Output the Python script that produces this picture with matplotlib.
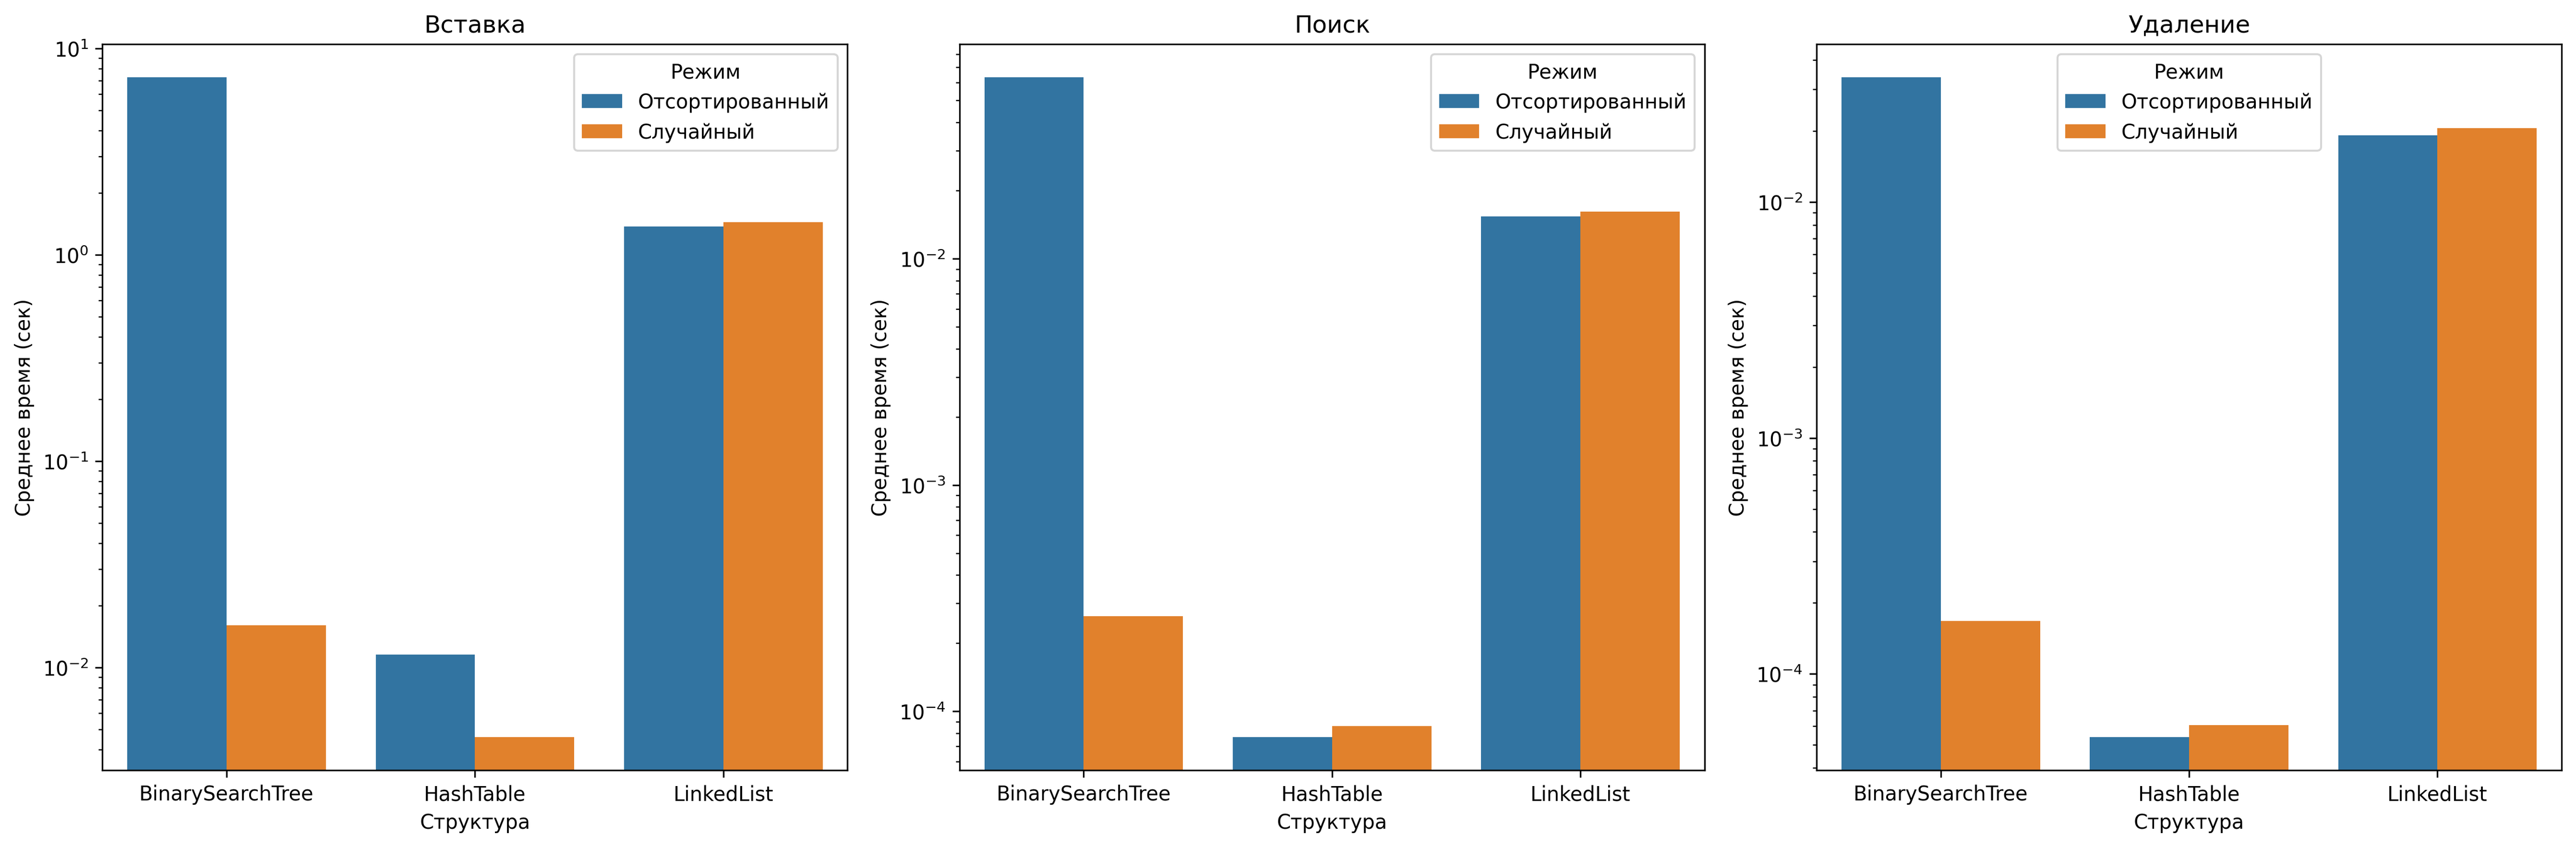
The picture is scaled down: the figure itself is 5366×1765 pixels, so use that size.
import pandas as pd
import seaborn as sns
import matplotlib.pyplot as plt

structures = ['BinarySearchTree', 'HashTable', 'LinkedList']
modes = ['Отсортированный', 'Случайный']

# average times (sec), [sorted, random] per structure
insert_sorted = [7.26, 0.01156, 1.368]
insert_random = [0.0160, 0.00459, 1.44]
search_sorted = [0.0634, 7.68e-5, 0.01535]
search_random = [0.000263, 8.62e-5, 0.01615]
delete_sorted = [0.0338, 5.39e-5, 0.01912]
delete_random = [0.0001675, 6.07e-5, 0.0206]

operations = [
    ('Вставка', insert_sorted, insert_random, 'upper right'),
    ('Поиск', search_sorted, search_random, 'upper right'),
    ('Удаление', delete_sorted, delete_random, 'upper center'),
]

fig, axes = plt.subplots(1, 3, figsize=(18, 6))

for ax, (title, sorted_vals, random_vals, loc) in zip(axes, operations):
    df = pd.DataFrame({
        'Структура': structures * 2,
        'Режим': [modes[0]] * 3 + [modes[1]] * 3,
        'time': sorted_vals + random_vals,
    })
    sns.barplot(data=df, x='Структура', y='time', hue='Режим', ax=ax)
    ax.set_yscale('log')
    ax.set_title(title)
    ax.set_ylabel('Среднее время (сек)')
    ax.legend(title='Режим', loc=loc)

plt.tight_layout()
plt.savefig('out.png', dpi=300, bbox_inches='tight')
